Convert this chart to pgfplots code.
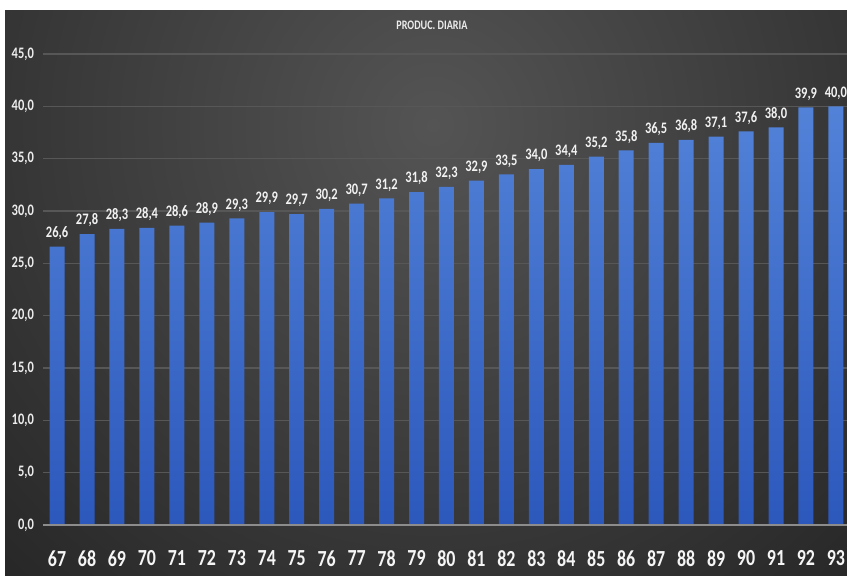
\documentclass[border=0pt]{standalone}
\usepackage{pgfplots}
\pgfplotsset{compat=1.18}
\usepackage{fontspec}
\setmainfont{Carlito}
\newfontfamily\cond[FakeStretch=0.78]{Carlito}
\definecolor{bgin}{HTML}{545454}
\definecolor{bgout}{HTML}{262626}
\definecolor{bartop}{HTML}{5282D8}
\definecolor{barbot}{HTML}{2C58BC}
\definecolor{gridc}{HTML}{575757}
\definecolor{zeroc}{HTML}{8C8C8C}

\pgfplotstableread{
x y
67 26.6
68 27.8
69 28.3
70 28.4
71 28.6
72 28.9
73 29.3
74 29.9
75 29.7
76 30.2
77 30.7
78 31.2
79 31.8
80 32.3
81 32.9
82 33.5
83 34.0
84 34.4
85 35.2
86 35.8
87 36.5
88 36.8
89 37.1
90 37.6
91 38.0
92 39.9
93 40.0
}\prodtable

\begin{document}
\begin{tikzpicture}
% page and dark background
\path[use as bounding box, fill=white] (-21.5pt,-25pt) rectangle (402pt,262.5pt);
\begin{scope}
\clip (-19pt,-25pt) rectangle (402pt,257.5pt);
\shade[inner color=bgin, outer color=bgout] (195pt,200pt) circle (320pt);
\end{scope}
\node[text=white!85!gray, font=\cond\bfseries\fontsize{6.5}{7}\selectfont] at (194.5pt,250pt) {PRODUC. DIARIA};

\begin{axis}[
    scale only axis,
    width=402pt, height=235.5pt,
    xmin=66.53, xmax=93.37,
    ymin=0, ymax=45,
    ytick={0,5,...,45},
    xtick=data,
    axis line style={draw=none},
    tick style={draw=none},
    ymajorgrids,
    grid style={gridc, line width=0.6pt},
    clip=false,
    /pgf/number format/assume math mode=true,
    yticklabel style={xshift=-1pt, text=white!85!gray, font=\cond\bfseries\fontsize{8}{9}\selectfont,
        /pgf/number format/.cd, fixed, fixed zerofill, precision=1, use comma},
    xticklabel style={text=white!92!gray, font=\cond\bfseries\fontsize{11.5}{12}\selectfont, yshift=-5pt},
    xticklabel={\pgfmathprintnumber[int detect]{\tick}},
    ybar, bar width=7.5pt,
    nodes near coords,
    every node near coord/.append style={text=white!90!gray,
        font=\cond\bfseries\fontsize{8}{9}\selectfont, yshift=0pt,
        /pgf/number format/.cd, fixed, fixed zerofill, precision=1, use comma},
]
\addplot[draw=none, top color=bartop, bottom color=barbot] table[x=x, y=y] {\prodtable};
\draw[zeroc, line width=0.8pt] (axis cs:66.53,0) -- (axis cs:93.37,0);
\end{axis}
\end{tikzpicture}
\end{document}
